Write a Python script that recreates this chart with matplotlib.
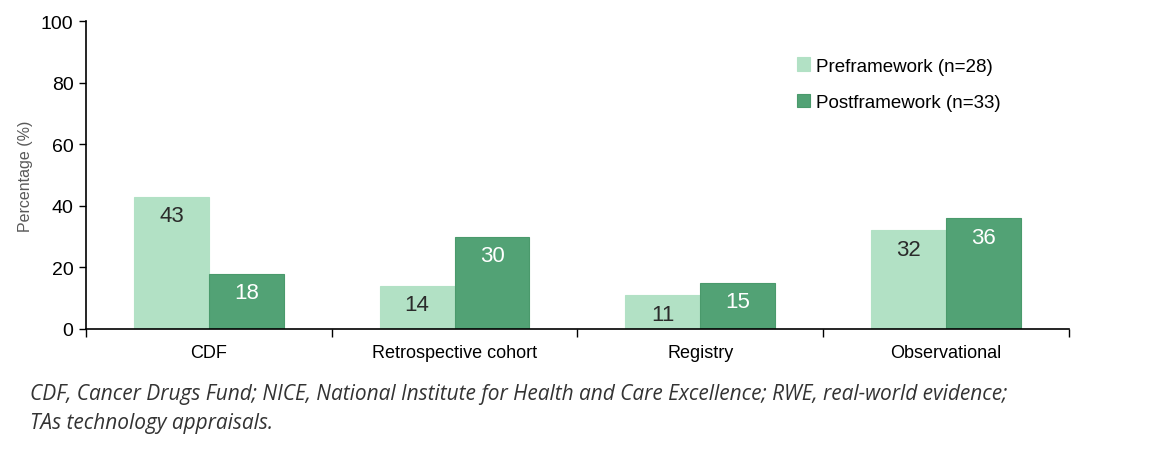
import numpy as np
import matplotlib.pyplot as plt

# data
categories = ["CDF", "Retrospective cohort", "Registry", "Observational"]
pre_vals = [43, 14, 11, 32]
post_vals = [18, 30, 15, 36]
series_names = ["Preframework (n=28)", "Postframework (n=33)"]
footnote = ("CDF, Cancer Drugs Fund; NICE, National Institute for Health and Care Excellence; RWE, real-world evidence;\n"
            "TAs technology appraisals.")

c_pre = "#b2e1c5"
c_post = "#52a275"

plt.rcParams["font.family"] = ["Liberation Sans", "DejaVu Sans"]

fig = plt.figure(figsize=(11.52, 4.52), dpi=100)
ax = fig.add_axes([0.0747, 0.270, 0.853, 0.681])

x = np.arange(len(categories))
w = 0.305
b1 = ax.bar(x - w / 2, pre_vals, w, color=c_pre, edgecolor=c_pre, linewidth=0.8, label=series_names[0])
b2 = ax.bar(x + w / 2, post_vals, w, color=c_post, edgecolor="#4a9a6c", linewidth=0.8, label=series_names[1])

for rect, v in zip(b1, pre_vals):
    ax.text(rect.get_x() + rect.get_width() / 2, v - 2.8, str(v), ha="center", va="top",
            fontsize=16, color="#2b2b2b")
for rect, v in zip(b2, post_vals):
    ax.text(rect.get_x() + rect.get_width() / 2, v - 2.8, str(v), ha="center", va="top",
            fontsize=16, color="white")

ax.set_xlim(-0.5, len(categories) - 0.5)
ax.set_ylim(0, 100)
ax.set_yticks(range(0, 101, 20))
ax.tick_params(axis="y", labelsize=14, length=5, width=1, pad=4)

# category boundaries as tick marks, names as minor labels
ax.set_xticks(np.arange(-0.5, len(categories), 1.0))
ax.set_xticklabels([])
ax.tick_params(axis="x", which="major", length=6, width=1)
ax.set_xticks(x, minor=True)
ax.set_xticklabels(categories, minor=True, fontsize=13)
ax.tick_params(axis="x", which="minor", length=0, pad=11)

for s in ["top", "right"]:
    ax.spines[s].set_visible(False)
ax.spines["left"].set_linewidth(1.2)
ax.spines["bottom"].set_linewidth(1.2)

ax.set_ylabel("Percentage (%)", fontsize=11.5, color="#595959", labelpad=6)

leg = ax.legend(loc="upper left", bbox_to_anchor=(0.706, 0.937), frameon=False, fontsize=13.5,
                handlelength=0.7, handleheight=0.7, handletextpad=0.35, labelspacing=1.05)

fig.text(0.026, 0.095, footnote, fontsize=15, style="italic", family="Open Sans",
         color="#333333", linespacing=1.55, va="center")

fig.savefig("out.png", dpi=100)
